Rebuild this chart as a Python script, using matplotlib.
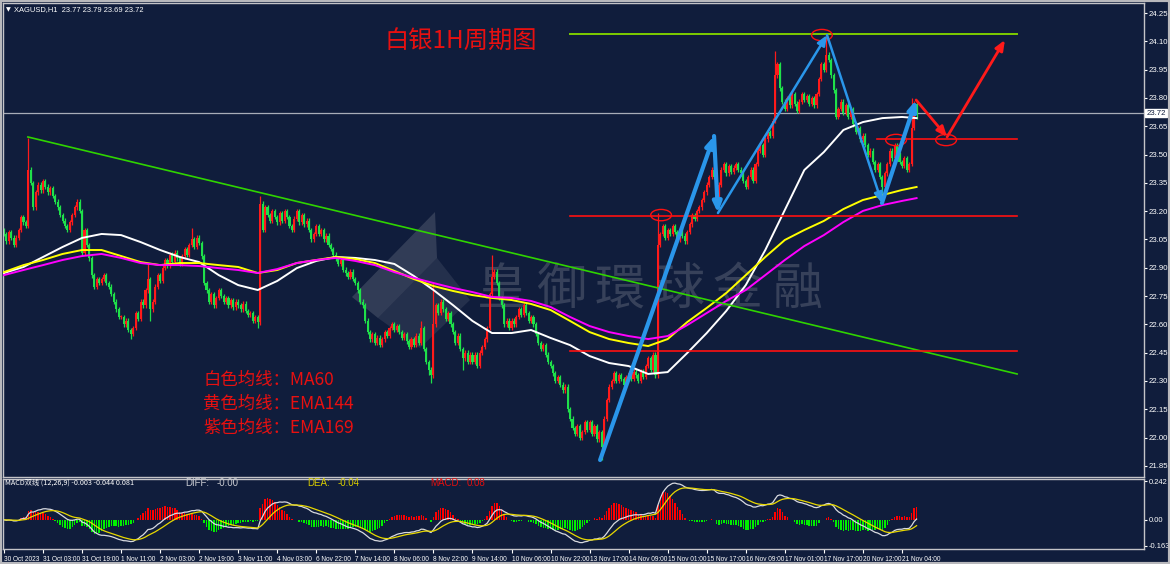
import numpy as np
import pandas as pd
import matplotlib
matplotlib.use("Agg")
import matplotlib.pyplot as plt
from matplotlib.patches import Ellipse, Polygon, Rectangle

plt.rcParams['font.family'] = ['Noto Sans CJK SC', 'DejaVu Sans']

BG = '#101d3c'
RED = '#ff1a1a'
GREEN = '#1fe04a'
W, H = 1170, 564

# ---- datos: cierres horarios XAGUSD (30 Oct - 21 Nov), un valor por vela ----
closes = [
    23.08, 23.04, 23.09, 23.06, 23.02, 23.06, 23.10, 23.17, 23.14, 23.12, 23.42, 23.35, 23.22, 23.30, 23.34, 23.31,
    23.36, 23.33, 23.30, 23.32, 23.28, 23.25, 23.22, 23.18, 23.15, 23.12, 23.10, 23.14, 23.18, 23.22, 23.25, 23.20,
    22.98, 23.10, 23.02, 22.95, 22.86, 22.80, 22.84, 22.82, 22.84, 22.86, 22.82, 22.80, 22.76, 22.72, 22.68, 22.64,
    22.64, 22.60, 22.62, 22.57, 22.55, 22.58, 22.66, 22.63, 22.72, 22.70, 22.78, 22.84, 22.68, 22.72, 22.80, 22.86,
    22.83, 22.90, 22.94, 22.91, 22.97, 22.93, 22.98, 22.95, 22.92, 22.96, 23.00, 22.97, 23.02, 23.05, 23.01, 23.06,
    23.03, 22.96, 22.82, 22.78, 22.72, 22.76, 22.70, 22.74, 22.78, 22.75, 22.72, 22.74, 22.70, 22.73, 22.69, 22.72,
    22.70, 22.68, 22.71, 22.67, 22.65, 22.66, 22.62, 22.64, 22.61, 23.24, 23.10, 23.22, 23.18, 23.15, 23.20, 23.17,
    23.14, 23.19, 23.15, 23.20, 23.17, 23.12, 23.10, 23.16, 23.20, 23.14, 23.18, 23.13, 23.15, 23.10, 23.05, 23.08,
    23.12, 23.08, 23.10, 23.05, 23.07, 23.02, 23.00, 22.97, 22.95, 22.92, 22.94, 22.89, 22.87, 22.85, 22.88, 22.84,
    22.82, 22.78, 22.72, 22.70, 22.62, 22.56, 22.52, 22.55, 22.50, 22.53, 22.49, 22.52, 22.56, 22.54, 22.58, 22.60,
    22.57, 22.59, 22.56, 22.53, 22.55, 22.51, 22.48, 22.52, 22.49, 22.54, 22.50, 22.58, 22.47, 22.40, 22.36, 22.33,
    22.60, 22.70, 22.66, 22.72, 22.68, 22.63, 22.66, 22.60, 22.56, 22.50, 22.54, 22.47, 22.42, 22.45, 22.40, 22.44,
    22.40, 22.44, 22.38, 22.45, 22.48, 22.52, 22.58, 22.76, 22.85, 22.88, 22.82, 22.74, 22.70, 22.60, 22.62, 22.58,
    22.62, 22.60, 22.64, 22.68, 22.65, 22.70, 22.66, 22.62, 22.64, 22.60, 22.55, 22.50, 22.47, 22.49, 22.44, 22.40,
    22.38, 22.34, 22.30, 22.32, 22.28, 22.25, 22.27, 22.15, 22.10, 22.05, 22.02, 22.06, 22.00, 22.03, 22.08, 22.04,
    22.08, 22.02, 22.06, 21.99, 22.03, 21.95, 22.10, 22.20, 22.27, 22.30, 22.34, 22.30, 22.33, 22.31, 22.28, 22.32,
    22.34, 22.31, 22.35, 22.33, 22.30, 22.35, 22.32, 22.38, 22.42, 22.36, 22.44, 22.33, 23.02, 23.08, 23.12, 23.06,
    23.10, 23.08, 23.12, 23.09, 23.05, 23.10, 23.07, 23.04, 23.09, 23.13, 23.18, 23.16, 23.20, 23.22, 23.26, 23.30,
    23.34, 23.38, 23.42, 23.38, 23.26, 23.34, 23.42, 23.45, 23.40, 23.44, 23.41, 23.43, 23.45, 23.42, 23.40, 23.36,
    23.33, 23.38, 23.42, 23.36, 23.45, 23.52, 23.55, 23.50, 23.58, 23.62, 23.60, 23.68, 23.92, 23.98, 23.85, 23.78,
    23.74, 23.80, 23.76, 23.82, 23.77, 23.73, 23.78, 23.82, 23.79, 23.81, 23.77, 23.80, 23.76, 23.82, 23.90, 23.98,
    23.95, 24.03, 24.00, 23.92, 23.84, 23.70, 23.74, 23.78, 23.72, 23.76, 23.70, 23.74, 23.66, 23.62, 23.64, 23.58,
    23.60, 23.55, 23.50, 23.52, 23.46, 23.42, 23.45, 23.38, 23.33, 23.40, 23.45, 23.52, 23.48, 23.55, 23.50, 23.46,
    23.44, 23.48, 23.42, 23.45, 23.64, 23.77, 23.72,
]
first_open = 23.10

# mechas largas
spike_hi_idx = [10, 59, 77, 105, 171, 176, 200, 268, 316, 337, 372, 374]
spike_hi_val = [23.59, 22.92, 23.11, 23.28, 22.62, 22.82, 22.97, 23.19, 24.05, 24.13, 23.80, 23.79]
spike_lo_idx = [52, 60, 104, 174, 175, 188, 245, 360, 374]
spike_lo_val = [22.52, 22.62, 22.58, 22.33, 22.29, 22.36, 21.88, 23.26, 23.69]

# medias móviles (cada 8 velas)
ma_idx = list(range(0, 369, 8)) + [374]
ma60 = [22.872, 22.904, 22.957, 23.010, 23.058, 23.079, 23.073, 23.036, 22.994, 22.957,
        22.930, 22.861, 22.808, 22.782, 22.830, 22.898, 22.936, 22.957, 22.952, 22.941,
        22.920, 22.856, 22.782, 22.702, 22.618, 22.554, 22.554, 22.570, 22.528, 22.490,
        22.432, 22.395, 22.379, 22.337, 22.347, 22.448, 22.554, 22.671, 22.808, 22.994,
        23.206, 23.418, 23.513, 23.630, 23.672, 23.693, 23.699, 23.693]
ema144 = [22.877, 22.914, 22.941, 22.973, 22.994, 22.994, 22.962, 22.930, 22.914, 22.925,
          22.925, 22.914, 22.904, 22.872, 22.888, 22.925, 22.941, 22.957, 22.946, 22.925,
          22.883, 22.840, 22.803, 22.777, 22.755, 22.740, 22.729, 22.708, 22.676, 22.618,
          22.559, 22.522, 22.501, 22.485, 22.522, 22.612, 22.687, 22.766, 22.861, 22.957,
          23.047, 23.100, 23.148, 23.211, 23.259, 23.285, 23.312, 23.328]
ema169 = [22.861, 22.888, 22.914, 22.941, 22.962, 22.973, 22.952, 22.925, 22.914, 22.914,
          22.909, 22.898, 22.888, 22.872, 22.893, 22.925, 22.941, 22.952, 22.936, 22.914,
          22.877, 22.846, 22.819, 22.793, 22.771, 22.745, 22.740, 22.724, 22.692, 22.639,
          22.591, 22.559, 22.538, 22.522, 22.538, 22.596, 22.660, 22.724, 22.782, 22.861,
          22.941, 23.015, 23.073, 23.142, 23.201, 23.232, 23.254, 23.269]

x_labels = ["30 Oct 2023", "31 Oct 03:00", "31 Oct 19:00", "1 Nov 11:00", "2 Nov 03:00",
            "2 Nov 19:00", "3 Nov 11:00", "4 Nov 03:00", "6 Nov 22:00", "7 Nov 14:00",
            "8 Nov 06:00", "8 Nov 22:00", "9 Nov 14:00", "10 Nov 06:00", "10 Nov 22:00",
            "13 Nov 17:00", "14 Nov 09:00", "15 Nov 01:00", "15 Nov 17:00", "16 Nov 09:00",
            "17 Nov 01:00", "17 Nov 17:00", "20 Nov 12:00", "21 Nov 04:00"]

SMALL = 'Liberation Sans'


def fx(px):
    return px / W


def fy(py):
    return 1 - py / H


c = np.array(closes)
x = np.arange(len(c))
o = np.r_[first_open, c[:-1]]
hi = np.maximum(o, c) + 0.012
lo = np.minimum(o, c) - 0.012
hi[spike_hi_idx] = spike_hi_val
lo[spike_lo_idx] = spike_lo_val
cols = np.where(c >= o, RED, GREEN)

fig = plt.figure(figsize=(W / 100, H / 100), dpi=100, facecolor=BG)
ax = fig.add_axes([fx(3), fy(477), fx(1144) - fx(3), fy(3) - fy(477)], facecolor=BG)
axm = fig.add_axes([fx(3), fy(549), fx(1144) - fx(3), fy(479) - fy(549)], facecolor=BG)

# marca de agua
for ch, px in zip("皇御環球金融", [502, 561, 620, 679, 738, 797]):
    ax.text(fx(px), fy(290), ch, transform=fig.transFigure, fontsize=36, color='#8a8f9c',
            alpha=0.32, ha='center', va='center', zorder=0.5)
ax.add_patch(Polygon([(fx(352), fy(297)), (fx(435), fy(212)), (fx(437), fy(258)), (fx(378), fy(318))],
                     closed=True, transform=fig.transFigure, color='#8a8f9c', alpha=0.28, lw=0, zorder=0.5))
ax.add_patch(Polygon([(fx(378), fy(318)), (fx(420), fy(348)), (fx(470), fy(300)), (fx(437), fy(258))],
                     closed=True, transform=fig.transFigure, color='#8a8f9c', alpha=0.17, lw=0, zorder=0.5))

# velas
ax.vlines(x, lo, hi, colors=cols, lw=0.9, zorder=2)
ax.bar(x, np.maximum(np.abs(c - o), 0.004), bottom=np.minimum(o, c), width=0.85,
       color=cols, lw=0, zorder=2)

# medias
ax.plot(ma_idx, ma60, color='white', lw=1.4, zorder=3)
ax.plot(ma_idx, ema144, color='#ffff00', lw=1.4, zorder=3)
ax.plot(ma_idx, ema169, color='#ff00ff', lw=1.4, zorder=3)

# líneas de análisis
ax.axhline(23.72, color='#a8adb8', lw=0.9, zorder=1.5)
ax.plot([9.8, 415.2], [23.593, 22.337], color='#2fd400', lw=1.2, zorder=4)
ax.plot([232, 415.2], [24.139, 24.139], color='#7ccc00', lw=1.4, zorder=4)
ax.plot([232, 415.2], [23.174, 23.174], color='#ff1010', lw=1.2, zorder=4)
ax.plot([232, 415.2], [22.459, 22.459], color='#ff1010', lw=1.2, zorder=4)
ax.plot([357.8, 415.2], [23.58, 23.58], color='#ff1010', lw=1.2, zorder=4)

for ex, ey in [(269.3, 23.179), (335.2, 24.133), (365.6, 23.577), (386.1, 23.577)]:
    ax.add_patch(Ellipse((ex, ey), width=8.5, height=0.06, fill=False, edgecolor='#ff1010', lw=1, zorder=5))

BLUE = '#2a96ea'
blue_pts = [(244.3, 21.881), (291.0, 23.598), (292.6, 23.190), (337.3, 24.133), (359.8, 23.243), (373.8, 23.789)]
blue_lw = [3.0, 3.0, 1.8, 1.8, 3.0]
for (p0, p1, lw) in zip(blue_pts[:-1], blue_pts[1:], blue_lw):
    ax.annotate('', xy=p1, xytext=p0, zorder=6,
                arrowprops=dict(arrowstyle='-|>,head_length=0.6,head_width=0.25', color=BLUE, lw=lw,
                                shrinkA=0, shrinkB=0))
red_pts = [(373.8, 23.789), (386.5, 23.593), (410.2, 24.107)]
for p0, p1 in zip(red_pts[:-1], red_pts[1:]):
    ax.annotate('', xy=p1, xytext=p0, zorder=6,
                arrowprops=dict(arrowstyle='-|>,head_length=0.6,head_width=0.25', color='#ff1a1a', lw=2,
                                shrinkA=0, shrinkB=0))

ax.set_xlim(-0.4, 467.2)
ax.set_ylim(21.791, 24.303)
ax.yaxis.tick_right()
yt = np.round(np.arange(21.85, 24.26, 0.15), 2)
ax.set_yticks(yt)
ax.set_yticklabels([f"{v:.2f}" for v in yt], family=SMALL)
ax.tick_params(axis='y', colors='white', labelsize=5.6, length=2, pad=1.5)
ax.tick_params(axis='x', bottom=False, labelbottom=False)
ax.text(1.002, 23.72, '23.72', transform=ax.get_yaxis_transform(), fontsize=5.6, color=BG,
        va='center', ha='left', family=SMALL,
        bbox=dict(boxstyle='square,pad=0.12', fc='white', ec='white'))

# MACD
s = pd.Series(c)
diff = s.ewm(span=12, adjust=False).mean() - s.ewm(span=26, adjust=False).mean()
dea = diff.ewm(span=9, adjust=False).mean()
hist = 2 * (diff - dea)
axm.bar(x, hist, width=0.6, color=np.where(hist >= 0, '#ff0000', '#00ee00'), lw=0)
axm.plot(x, diff, color='#d8dae0', lw=0.9)
axm.plot(x, dea, color='#e8d800', lw=0.9)
axm.set_xlim(-0.4, 467.2)
axm.set_ylim(-0.182, 0.2545)
axm.yaxis.tick_right()
axm.set_yticks([-0.163, 0.0, 0.242])
axm.set_yticklabels(['-0.163', '0.00', '0.242'], family=SMALL)
axm.tick_params(axis='y', colors='white', labelsize=5.4, length=2, pad=1.5)
axm.set_xticks(np.arange(0, 369, 16))
axm.set_xticklabels(x_labels, family=SMALL)
axm.tick_params(axis='x', colors='white', labelsize=4.7, length=3, pad=2)
for lab in axm.get_xticklabels():
    lab.set_horizontalalignment('left')

for a in (ax, axm):
    for sp in a.spines.values():
        sp.set_color('#c4c4c8')
        sp.set_linewidth(1)

# textos
fig.text(fx(6), fy(10), '▼', color='white', fontsize=4.5, va='center', family='DejaVu Sans')
fig.text(fx(14), fy(10), 'XAGUSD,H1  23.77 23.79 23.69 23.72', color='white', fontsize=5.4,
         va='center', family=SMALL)
fig.text(fx(385), fy(42), '白银1H周期图', color='#e81010', fontsize=17.5, va='center')
for i, t in enumerate(['白色均线：MA60', '黄色均线：EMA144', '紫色均线：EMA169']):
    fig.text(fx(203), fy(380 + 24 * i), t, color='#e81010', fontsize=12.5, va='center')

fig.text(fx(5), fy(483), 'MACD双线 (12,26,9) -0.003 -0.044 0.081', color='white', fontsize=5.2, va='center')
for px, t, col in [(185, 'DIFF:', '#c8cad0'), (217, '-0.00', '#c8cad0'), (307, 'DEA:', '#d8cc00'),
                   (338, '-0.04', '#d8cc00'), (430, 'MACD:', '#e01010'), (467, '0.08', '#e01010')]:
    fig.text(fx(px), fy(483), t, color=col, fontsize=7, va='center', family=SMALL)

fig.patches.append(Rectangle((0, 0), 1, 1, transform=fig.transFigure, fill=False,
                             edgecolor='#b8b8bc', lw=3))

fig.savefig('out.png', dpi=100, facecolor=BG)
